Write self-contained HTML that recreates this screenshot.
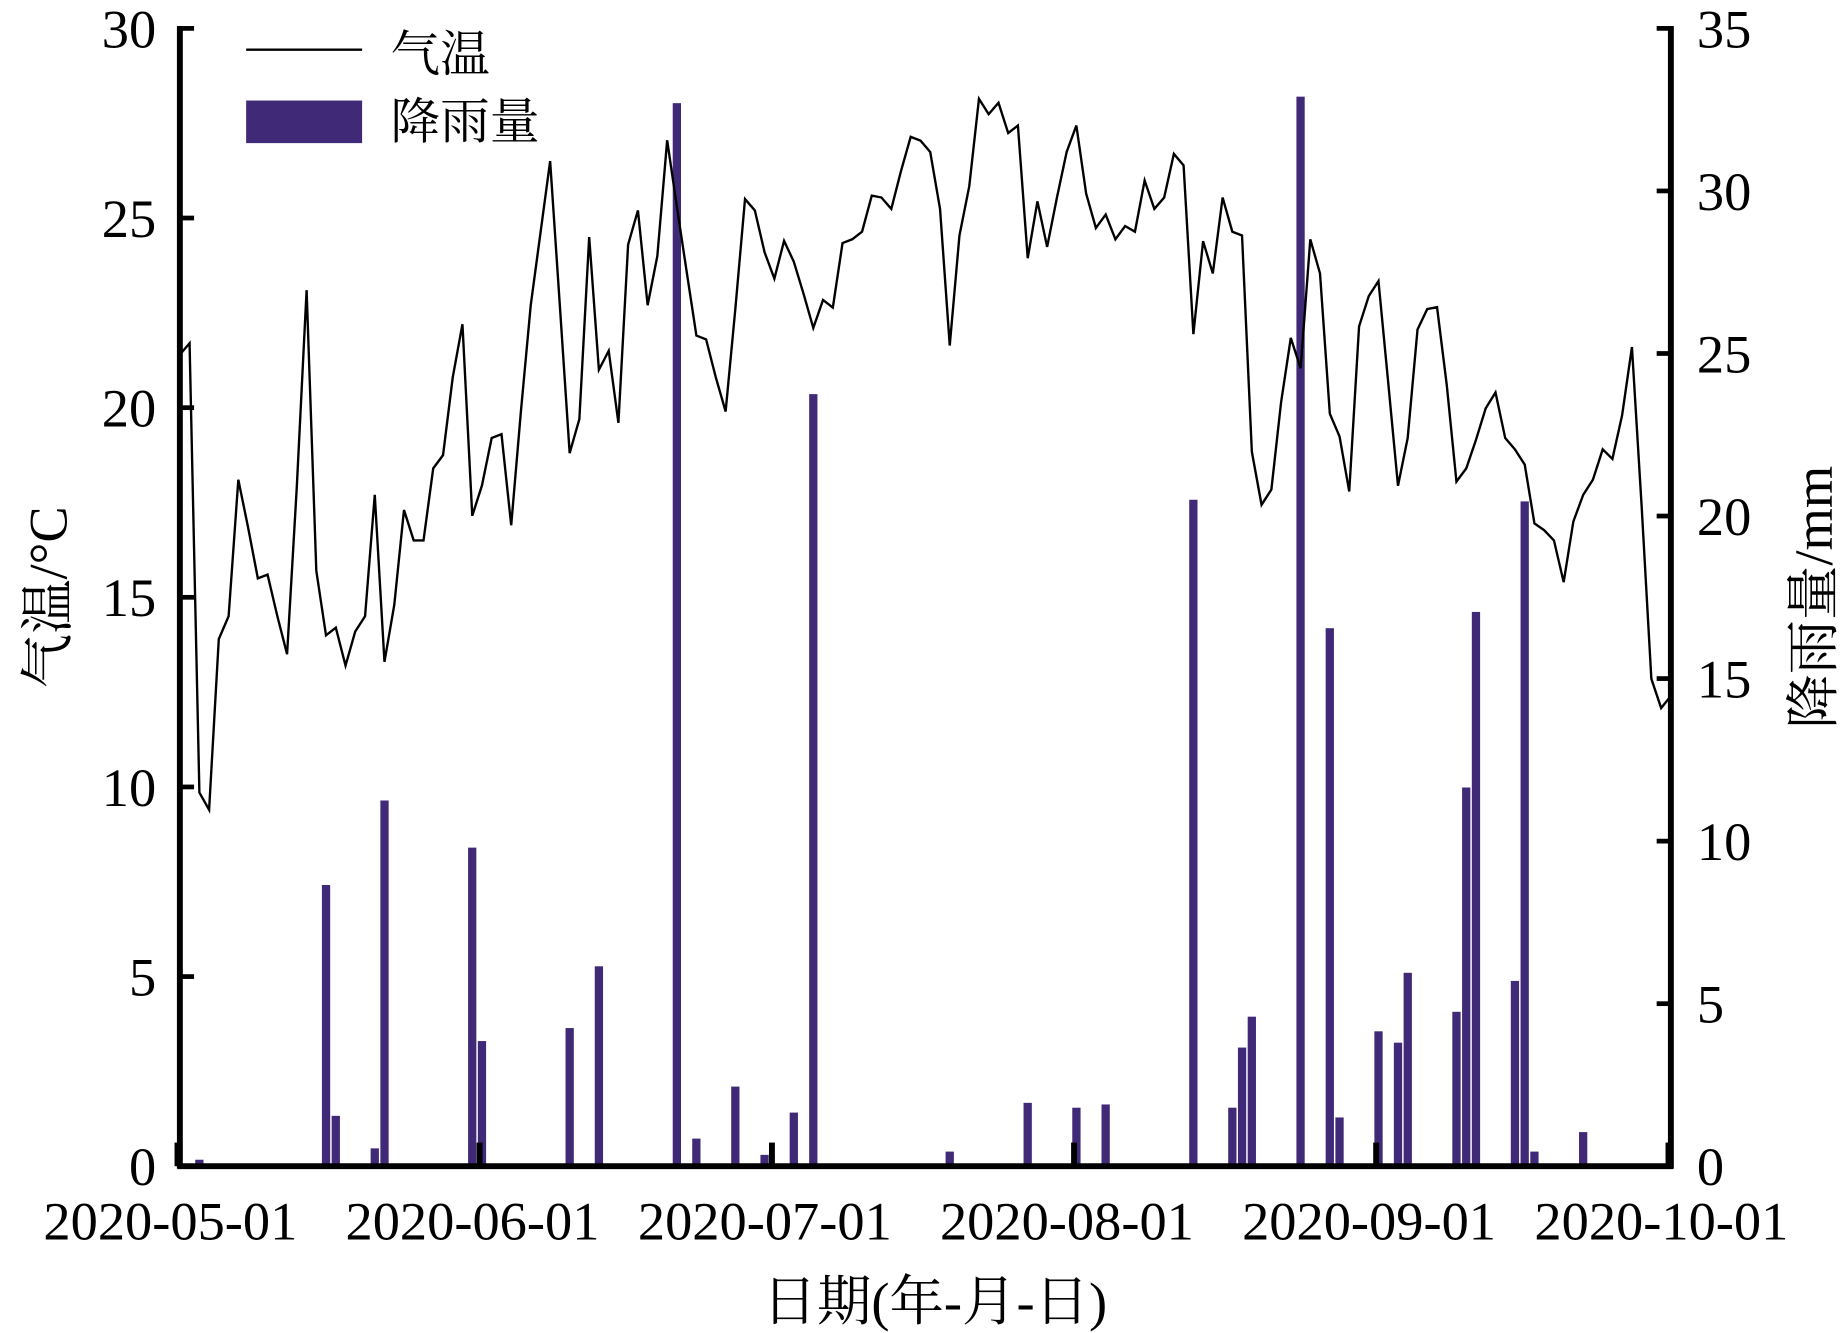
<!DOCTYPE html>
<html><head><meta charset="utf-8"><style>
html,body{margin:0;padding:0;background:#fff;}
svg{display:block;}
text{font-family:"Liberation Serif","Noto Serif CJK SC","Noto Sans CJK SC",serif;fill:#000;}
</style></head><body>
<svg id="chart" width="1846" height="1333" viewBox="0 0 1560 1127" preserveAspectRatio="none" xmlns="http://www.w3.org/2000/svg">
<g id="bars"></g>
<path id="tline" fill="none" stroke="#000" stroke-width="2" stroke-linejoin="miter"/>
<g id="axes"></g>
<g>
<line x1="208" y1="42" x2="306" y2="42" stroke="#000" stroke-width="2"/>
<text x="330" y="60" font-size="42">气温</text>
<rect x="208" y="85" width="98" height="36" fill="#402a78"/>
<text x="330" y="117" font-size="42">降雨量</text>
</g>
<text x="790" y="1116" font-size="46" text-anchor="middle">日期(年-月-日)</text>
<text transform="translate(56,505) rotate(-90)" font-size="46" text-anchor="middle">气温/°C</text>
<text transform="translate(1548,505) rotate(-90)" font-size="46" text-anchor="middle">降雨量/mm</text>
</svg>
<script>
const temps = [21.4,21.7,9.85,9.4,13.9,14.5,18.1,16.85,15.5,15.6,14.5,13.5,17.9,23.1,15.7,14.0,14.2,13.2,14.1,14.5,17.7,13.3,14.8,17.3,16.5,16.5,18.4,18.75,20.8,22.2,17.15,17.95,19.2,19.3,
16.9,19.9,22.7,24.6,26.5,22.65,18.8,19.7,24.5,21.0,21.5,19.6,24.3,25.2,22.7,24.0,27.05,25.3,23.6,21.9,21.8,20.8,19.9,22.6,25.5,25.2,24.1,23.4,24.4,23.85,23.0,22.1,
22.84,22.64,24.34,24.44,24.64,25.59,25.54,25.24,26.24,27.14,27.04,26.74,25.24,21.64,24.54,25.84,28.14,27.74,28.04,27.24,27.44,23.94,25.44,24.24,25.54,26.74,27.44,25.64,24.74,25.09,24.44,
24.79,24.64,25.99,25.24,25.54,26.69,26.39,21.94,24.39,23.54,25.54,24.64,24.54,18.84,17.44,17.84,20.14,21.84,21.04,24.44,23.54,19.84,19.24,17.79,22.14,22.94,23.34,20.64,17.94,
19.2,22.06,22.6,22.65,20.6,18.05,18.4,19.15,19.98,20.4,19.2,18.9,18.5,16.95,16.77,16.5,15.4,17.0,17.7,18.1,18.9,18.65,19.8,21.6,17.4,12.85,12.08,12.4];
const rainDays = [2,15,16,20,21,30,31,40,43,51,53,57,60,63,65,79,87,92,95,104,108,109,110,115,118,119,123,125,126,131,132,133,137,138,139,144];
const rainValues = [0.2,8.65,1.55,0.55,11.25,9.8,3.85,4.25,6.15,32.7,0.85,2.45,0.35,1.65,23.75,0.45,1.95,1.8,1.9,20.5,1.8,3.65,4.6,32.9,16.55,1.5,4.15,3.8,5.95,4.75,11.65,17.05,5.7,20.45,0.45,1.05];
const tempTicks = [0,5,10,15,20,25,30];
const rainTicks = [0,5,10,15,20,25,30,35];
const monthLabels = ["2020-05-01","2020-06-01","2020-07-01","2020-08-01","2020-09-01","2020-10-01"];
const monthDays = [0,31,61,92,123,153];

const L=152,R=1412,T=24,B=986;
const xScale = d => L + d*(R-L)/153;
const yT = v => B - v*(B-T)/30;
const yR = v => B - v*(B-T)/35;
const NS="http://www.w3.org/2000/svg";
function mk(tag, attrs, parent){const e=document.createElementNS(NS,tag);for(const k in attrs)e.setAttribute(k,attrs[k]);parent.appendChild(e);return e;}

const bars=document.getElementById('bars');
rainDays.forEach((d,i)=>{
  const y=yR(rainValues[i]);
  const r=mk('rect',{x:xScale(d)-3.5,y:y,width:7,height:B-y,fill:'#402a78'},bars);
  
  
});

document.getElementById('tline').setAttribute('d', temps.map((v,i)=>(i?'L':'M')+xScale(i).toFixed(1)+' '+yT(v).toFixed(1)).join(' '));

const ax=document.getElementById('axes');
const sp1=mk('line',{x1:L,y1:T-2,x2:L,y2:B+2,stroke:'#000','stroke-width':5},ax);


const sp2=mk('line',{x1:R,y1:T-2,x2:R,y2:B+2,stroke:'#000','stroke-width':5},ax);


const sp3=mk('line',{x1:L-2,y1:B,x2:R+2,y2:B,stroke:'#000','stroke-width':5},ax);



tempTicks.forEach(v=>{
  const y=yT(v);
  const t=mk('line',{x1:L,y1:y,x2:L+12,y2:y,stroke:'#000','stroke-width':4},ax);
  
  
  const tx=mk('text',{x:L-20,y:y+16,'font-size':46,'text-anchor':'end'},ax);
  tx.textContent=v;
  
  
});
rainTicks.forEach(v=>{
  const y=yR(v);
  const t=mk('line',{x1:R-12,y1:y,x2:R,y2:y,stroke:'#000','stroke-width':4},ax);
  
  
  const tx=mk('text',{x:R+22,y:y+16,'font-size':46,'text-anchor':'start'},ax);
  tx.textContent=v;
  
  
});
monthDays.forEach((d,i)=>{
  const x=xScale(d);
  const t=mk('line',{x1:x-2,y1:B,x2:x-2,y2:B-20,stroke:'#000','stroke-width':5},ax);
  
  
  const tx=mk('text',{x:x-8,y:B+62,'font-size':46,'text-anchor':'middle'},ax);
  tx.textContent=monthLabels[i];
  
  
});
</script>
</body></html>
